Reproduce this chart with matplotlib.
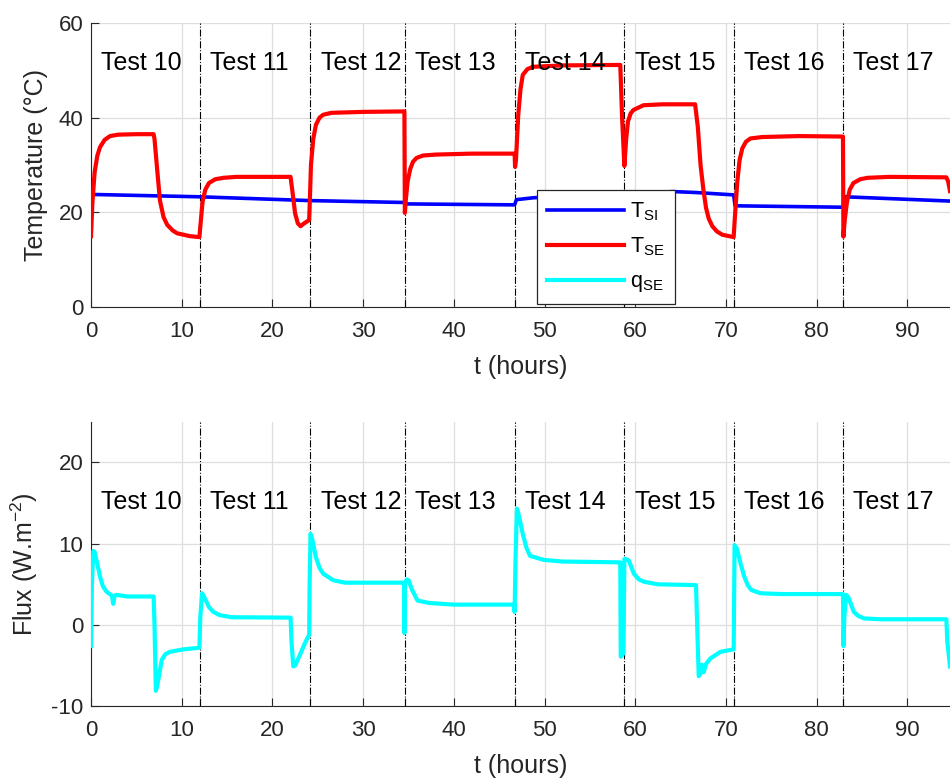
import matplotlib
matplotlib.use("Agg")
import matplotlib.pyplot as plt
from matplotlib.ticker import FixedLocator

plt.rcParams['font.family'] = ['Liberation Sans', 'DejaVu Sans']
plt.rcParams['mathtext.fontset'] = 'custom'
plt.rcParams['mathtext.rm'] = 'Liberation Sans'
plt.rcParams['mathtext.it'] = 'Liberation Sans:italic'
plt.rcParams['axes.unicode_minus'] = False

# ---------------- data ----------------
boundaries = [12.0, 24.1, 34.6, 46.75, 58.8, 70.9, 82.95]
test_names = ["Test 10", "Test 11", "Test 12", "Test 13",
              "Test 14", "Test 15", "Test 16", "Test 17"]
test_label_x = [1.1, 13.1, 25.4, 35.7, 47.85, 60.0, 72.0, 84.05]

t_si = [0.0, 12.0, 24.1, 34.55, 34.7, 46.7, 46.9, 48.8, 59.0, 64.2, 66.7,
        70.85, 71.0, 82.9, 83.1, 94.7]
T_si = [23.8, 23.3, 22.5, 22.1, 21.8, 21.6, 22.7, 23.1, 24.0, 24.4, 24.2,
        23.7, 21.4, 21.1, 23.3, 22.4]

t_se = [0.0, 0.15, 0.4, 0.7, 1.0, 1.5, 2.1, 3.0, 5.0, 6.9, 7.0, 7.25, 7.6,
        8.0, 8.4, 9.0, 9.5, 10.9, 11.95,
        12.05, 12.3, 12.6, 13.0, 13.7, 14.6, 16.0, 22.0, 22.2, 22.5, 22.8,
        23.1, 23.5, 24.05,
        24.15, 24.25, 24.5, 24.8, 25.2, 25.6, 26.5, 30.0, 34.55,
        34.6, 34.7, 34.9, 35.2, 35.5, 35.9, 36.6, 38.0, 42.0, 46.7,
        46.75, 46.85, 47.1, 47.35, 47.6, 48.1, 48.7, 52.0, 58.35,
        58.55, 58.8, 59.0, 59.2, 59.5, 59.8, 60.9, 63.0, 66.6,
        66.9, 67.2, 67.5, 67.8, 68.1, 68.5, 69.0, 69.6, 70.85,
        70.95, 71.25, 71.5, 71.8, 72.2, 72.7, 74.0, 78.0, 82.9,
        82.95, 83.1, 83.35, 83.65, 84.05, 84.8, 85.6, 88.0, 94.3, 94.5, 94.7]
T_se = [15.0, 22.0, 28.5, 32.0, 33.8, 35.3, 36.1, 36.4, 36.5, 36.5, 35.5,
        30.0, 22.5, 19.0, 17.4, 16.2, 15.6, 15.0, 14.8,
        17.0, 22.3, 24.8, 26.2, 27.0, 27.3, 27.5, 27.5, 24.5, 19.8, 17.7,
        17.1, 17.7, 18.4,
        24.0, 30.0, 35.5, 38.5, 40.0, 40.6, 41.0, 41.2, 41.3,
        19.9, 22.5, 26.5, 29.2, 30.7, 31.5, 32.0, 32.2, 32.4, 32.4,
        29.6, 31.0, 40.5, 46.0, 49.0, 50.2, 50.7, 51.0, 51.1,
        40.0, 29.8, 35.5, 39.2, 40.9, 41.6, 42.6, 42.8, 42.8,
        38.0, 30.0, 25.0, 21.0, 18.7, 17.1, 16.0, 15.3, 14.8,
        18.0, 26.5, 31.0, 33.5, 34.9, 35.6, 35.9, 36.1, 36.0,
        14.9, 18.5, 22.3, 24.8, 26.2, 27.0, 27.3, 27.5, 27.4, 26.5, 24.5]

t_q = [0.0, 0.1, 0.25, 0.4, 0.7, 1.0, 1.3, 1.7, 2.3, 2.45, 2.6, 2.8, 4.0,
       6.9, 7.0, 7.15, 7.3, 7.8, 8.2, 8.7, 10.2, 11.95,
       12.05, 12.25, 12.5, 13.0, 13.5, 14.2, 15.5, 22.0, 22.1, 22.3, 22.5,
       23.1, 23.6, 24.05,
       24.1, 24.2, 24.4, 24.8, 25.2, 25.6, 26.7, 28.0, 34.5,
       34.55, 34.6, 34.8, 35.0, 35.4, 36.0, 37.3, 40.0, 46.65,
       46.7, 46.8, 46.95, 47.1, 47.6, 48.0, 48.4, 49.9, 52.0, 58.35,
       58.4, 58.7, 58.8, 59.0, 59.3, 59.85, 60.4, 61.0, 62.5, 66.7,
       66.85, 67.0, 67.2, 67.35, 67.55, 67.8, 68.3, 69.4, 70.85,
       70.95, 71.2, 71.6, 72.0, 72.4, 72.8, 73.8, 76.0, 82.9,
       82.95, 83.05, 83.25, 83.5, 84.1, 84.6, 85.25, 87.0, 94.3, 94.4, 94.7]
q_se = [-2.6, 5.0, 9.1, 9.0, 7.5, 5.9, 4.8, 4.1, 3.6, 2.6, 3.6, 3.7, 3.5,
        3.5, 0.0, -8.1, -7.5, -4.3, -3.6, -3.3, -3.0, -2.8,
        1.0, 3.9, 3.4, 2.2, 1.6, 1.2, 0.95, 0.9, -2.0, -5.1, -5.0,
        -3.5, -2.2, -1.2,
        5.0, 11.2, 10.5, 8.3, 7.0, 6.3, 5.5, 5.2, 5.2,
        -1.0, 5.0, 5.6, 5.5, 4.3, 3.0, 2.7, 2.5, 2.5,
        1.6, 8.0, 14.3, 13.8, 11.2, 9.5, 8.5, 8.0, 7.8, 7.7,
        -3.9, -3.5, 8.1, 8.1, 7.9, 6.3, 5.6, 5.3, 5.0, 4.9,
        -1.0, -6.3, -6.0, -4.9, -5.8, -4.8, -4.1, -3.3, -3.0,
        9.8, 9.4, 7.6, 6.0, 4.9, 4.3, 3.9, 3.8, 3.8,
        -2.6, 1.0, 3.7, 3.4, 1.6, 1.1, 0.8, 0.7, 0.7, -2.0, -5.1]

x_ticks = [0, 10, 20, 30, 40, 50, 60, 70, 80, 90]
top_yticks = [0, 20, 40, 60]
bot_yticks = [-10, 0, 10, 20]

# ---------------- figure ----------------
fig = plt.figure(figsize=(9.5, 7.78), dpi=100)
ax1 = fig.add_axes([0.0958, 0.605, 0.9042, 0.3658])
ax2 = fig.add_axes([0.0958, 0.0922, 0.9042, 0.3658])

dark = '#262626'


def style(ax, yticks, ylim):
    ax.set_xlim(0, 94.7)
    ax.set_ylim(*ylim)
    ax.set_xticks(x_ticks)
    ax.set_yticks(yticks)
    ax.xaxis.set_minor_locator(FixedLocator(boundaries))
    ax.tick_params(which='both', direction='in', length=6, width=0.8,
                   colors=dark, labelsize=16, pad=5.5)
    ax.tick_params(axis='x', which='major', pad=10)
    for s in ['top', 'right']:
        ax.spines[s].set_visible(False)
    for s in ['left', 'bottom']:
        ax.spines[s].set_color(dark)
        ax.spines[s].set_linewidth(0.8)
    ax.grid(True, which='major', color='#dedede', lw=0.9)
    ax.set_axisbelow(True)
    ax.set_xlabel('t (hours)', fontsize=18, color=dark, labelpad=9)
    for b in boundaries:
        ax.axvline(b, color='black', ls='-.', lw=0.8, zorder=1)


style(ax1, top_yticks, (0, 60))
style(ax2, bot_yticks, (-10, 25))

l1, = ax1.plot(t_si, T_si, color='#0000ff', lw=2.6, zorder=3)
l2, = ax1.plot(t_se, T_se, color='#ff0000', lw=3.0, zorder=4)
l3, = ax2.plot(t_q, q_se, color='#00ffff', lw=3.0, zorder=3)
l3b, = ax1.plot([], [], color='#00ffff', lw=3.0)

ax1.set_ylabel('Temperature (°C)', fontsize=18, color=dark, labelpad=8)
ax2.set_ylabel('Flux (W.m$^{\\mathregular{-2}}$)', fontsize=18, color=dark,
               labelpad=8)

for name, x in zip(test_names, test_label_x):
    ax1.text(x, 50.0, name, fontsize=18, ha='left', va='baseline',
             color='black', zorder=5)
    ax2.text(x, 14.2, name, fontsize=18, ha='left', va='baseline',
             color='black', zorder=5)

leg = ax1.legend([l1, l2, l3b],
                 ['T$_{\\mathregular{SI}}$', 'T$_{\\mathregular{SE}}$',
                  'q$_{\\mathregular{SE}}$'],
                 loc='lower left', bbox_to_anchor=(0.519, 0.012),
                 borderaxespad=0, fontsize=15.5, handlelength=3.6,
                 handletextpad=0.3, labelspacing=0.6, borderpad=0.45,
                 fancybox=False, framealpha=1, edgecolor=dark)
leg.get_frame().set_linewidth(0.9)
leg.set_zorder(10)

fig.savefig('out.png', dpi=100)
